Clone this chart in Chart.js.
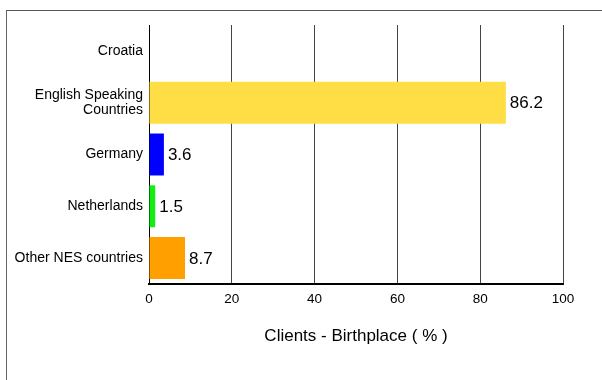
<!DOCTYPE html>
<html>
<head>
<meta charset="utf-8">
<script src="https://cdn.jsdelivr.net/npm/chart.js@4/dist/chart.umd.min.js"></script>
<style>
  html, body { margin: 0; padding: 0; background: #fff; }
  #wrap { position: relative; width: 602px; height: 380px; overflow: hidden; }
  #frame {
    position: absolute; left: 6px; top: 10px; width: 700px; height: 500px;
    border-top: 1px solid #555; border-left: 1px solid #666;
  }
  #chart { position: absolute; left: 0; top: 0; }
</style>
</head>
<body>
<div id="wrap">
  <div id="frame"></div>
  <canvas id="chart" width="602" height="380"></canvas>
</div>
<script>
// birthplace shares
var categories = ["Croatia", ["English Speaking", "Countries"], "Germany", "Netherlands", "Other NES countries"];
var shares = [0, 86.2, 3.6, 1.5, 8.7];
var barColors = ["#cccccc", "#ffdd44", "#0000ff", "#11ee11", "#ffa000"];
var xTicks = [0, 20, 40, 60, 80, 100];
var axisTitle = "Clients - Birthplace ( % )";

var FONT = "Arial, 'Liberation Sans', sans-serif";

// value text just past the end of each bar
var valueLabels = {
  id: "valueLabels",
  afterDatasetsDraw(chart) {
    const ctx = chart.ctx;
    const meta = chart.getDatasetMeta(0);
    ctx.save();
    ctx.font = "17px " + FONT;
    ctx.fillStyle = "#000";
    ctx.textAlign = "left";
    ctx.textBaseline = "middle";
    meta.data.forEach((bar, i) => {
      const v = shares[i];
      if (!v) return;
      ctx.fillText(v.toFixed(1), bar.x + 4, bar.y + 1);
    });
    ctx.restore();
  }
};

new Chart(document.getElementById("chart"), {
  type: "bar",
  data: {
    labels: categories,
    datasets: [{
      data: shares,
      backgroundColor: barColors,
      borderWidth: 0,
      categoryPercentage: 1,
      barPercentage: 0.81
    }]
  },
  options: {
    indexAxis: "y",
    responsive: false,
    animation: false,
    layout: { padding: { top: 25, right: 39, left: 0, bottom: 0 } },
    plugins: { legend: { display: false }, tooltip: { enabled: false } },
    scales: {
      x: {
        min: 0,
        max: 100,
        afterBuildTicks(scale) {
          scale.ticks = xTicks.map(v => ({ value: v }));
        },
        afterFit(scale) { scale.height = 96; },
        grid: { color: "#444", lineWidth: 1, drawTicks: false },
        border: { color: "#000", width: 2 },
        ticks: { color: "#000", padding: 7, font: { family: FONT, size: 13.5 } },
        title: {
          display: true,
          text: axisTitle,
          color: "#000",
          font: { family: FONT, size: 17 },
          padding: { top: 0, bottom: 33 }
        }
      },
      y: {
        afterFit(scale) { scale.width = 149; },
        grid: { display: false, drawTicks: false },
        border: { color: "#000", width: 1 },
        ticks: { color: "#000", padding: 6, font: { family: FONT, size: 14, lineHeight: 1.07 } }
      }
    }
  },
  plugins: [valueLabels]
});
</script>
</body>
</html>
